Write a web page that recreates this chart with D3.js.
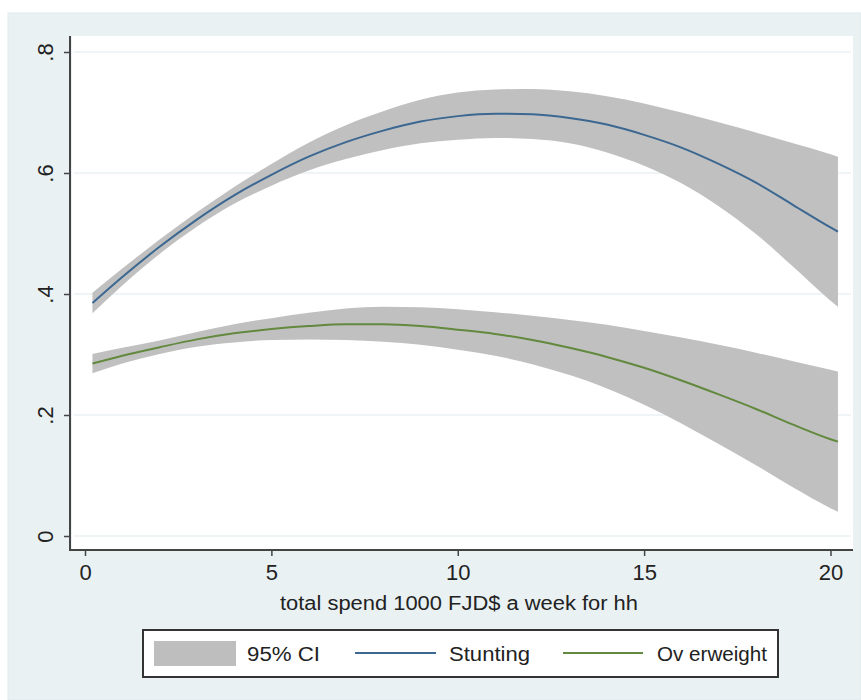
<!DOCTYPE html>
<html>
<head>
<meta charset="utf-8">
<script src="https://cdn.jsdelivr.net/npm/d3@7"></script>
<style>
  html, body { margin: 0; padding: 0; background: #ffffff; }
  svg { display: block; }
  text { font-family: "Liberation Sans", Arial, sans-serif; fill: #222; }
</style>
</head>
<body>
<script>
// ---- data ----
const xVals = [0.2, 1, 2, 3, 4, 5, 6, 7, 8, 9, 10, 11, 12, 13, 14, 15, 16, 17, 18, 19, 20, 20.2];

const stuntingFit = [0.385, 0.428, 0.478, 0.523, 0.563, 0.597, 0.627, 0.651, 0.670, 0.685, 0.694, 0.698, 0.697, 0.691, 0.680, 0.663, 0.642, 0.615, 0.584, 0.547, 0.510, 0.503];
const stuntingHi  = [0.402, 0.442, 0.490, 0.535, 0.577, 0.615, 0.650, 0.679, 0.702, 0.721, 0.733, 0.738, 0.739, 0.735, 0.727, 0.715, 0.700, 0.684, 0.667, 0.649, 0.631, 0.627];
const stuntingLo  = [0.368, 0.414, 0.466, 0.511, 0.549, 0.579, 0.604, 0.623, 0.638, 0.649, 0.655, 0.658, 0.656, 0.649, 0.634, 0.612, 0.583, 0.545, 0.499, 0.445, 0.389, 0.379];

const overweightFit = [0.285, 0.298, 0.312, 0.325, 0.335, 0.342, 0.347, 0.350, 0.350, 0.347, 0.341, 0.334, 0.324, 0.311, 0.296, 0.278, 0.257, 0.234, 0.210, 0.184, 0.160, 0.156];
const overweightHi  = [0.301, 0.311, 0.323, 0.337, 0.350, 0.360, 0.369, 0.376, 0.379, 0.378, 0.375, 0.370, 0.364, 0.357, 0.349, 0.339, 0.328, 0.316, 0.303, 0.289, 0.275, 0.272];
const overweightLo  = [0.269, 0.285, 0.301, 0.313, 0.320, 0.324, 0.325, 0.324, 0.321, 0.316, 0.308, 0.298, 0.284, 0.266, 0.244, 0.217, 0.186, 0.152, 0.117, 0.080, 0.046, 0.040];

const xTicks = [0, 5, 10, 15, 20];
const xTickLabels = ["0", "5", "10", "15", "20"];
const yTicks = [0, 0.2, 0.4, 0.6, 0.8];
const yTickLabels = ["0", ".2", ".4", ".6", ".8"];

const xTitle = "total spend 1000 FJD$ a week for hh";
const legendLabels = ["95% CI", "Stunting", "Ov erweight"];

// ---- styles ----
const colStunting = "#3b6791";
const colOverweight = "#62893e";
const colCI = "#c0c0c0";
const colOuter = "#e9f1f3";

const W = 861, H = 700;
const svg = d3.select("body").append("svg").attr("width", W).attr("height", H);

// outer graph region
svg.append("rect").attr("x", 8).attr("y", 13).attr("width", W - 8).attr("height", H - 13)
  .attr("fill", colOuter).attr("stroke", "#dfe9ed").attr("stroke-width", 1);

// plot region
const plot = { left: 72, right: 853, top: 36, bottom: 549 };
svg.append("rect").attr("x", plot.left).attr("y", plot.top)
  .attr("width", plot.right - plot.left).attr("height", plot.bottom - plot.top)
  .attr("fill", "#ffffff");

const x = d3.scaleLinear().domain([0, 20]).range([85, 830.5]);
const y = d3.scaleLinear().domain([0, 0.8]).range([536, 52]);

// grid lines
svg.append("g").selectAll("line").data(yTicks).join("line")
  .attr("x1", plot.left + 2).attr("x2", plot.right - 2)
  .attr("y1", d => y(d)).attr("y2", d => y(d))
  .attr("stroke", "#eaf2f4").attr("stroke-width", 1.5);

const rows = xVals.map((xv, i) => ({
  x: xv,
  sFit: stuntingFit[i], sLo: stuntingLo[i], sHi: stuntingHi[i],
  oFit: overweightFit[i], oLo: overweightLo[i], oHi: overweightHi[i]
}));

const curve = d3.curveMonotoneX;
const area = (lo, hi) => d3.area().x(d => x(d.x)).y0(d => y(d[lo])).y1(d => y(d[hi])).curve(curve);
const line = (k) => d3.line().x(d => x(d.x)).y(d => y(d[k])).curve(curve);

svg.append("path").datum(rows).attr("d", area("sLo", "sHi")).attr("fill", colCI);
svg.append("path").datum(rows).attr("d", area("oLo", "oHi")).attr("fill", colCI);
svg.append("path").datum(rows).attr("d", line("sFit")).attr("fill", "none")
  .attr("stroke", colStunting).attr("stroke-width", 2);
svg.append("path").datum(rows).attr("d", line("oFit")).attr("fill", "none")
  .attr("stroke", colOverweight).attr("stroke-width", 2);

// axes
const axisCol = "#444";
const yAxis = d3.axisLeft(y).tickValues(yTicks).tickFormat((d, i) => yTickLabels[i]).tickSize(6).tickPadding(6);
const gy = svg.append("g").attr("transform", `translate(${70},0)`).call(yAxis);
gy.select(".domain").remove();
gy.selectAll(".tick line").attr("stroke", axisCol).attr("stroke-width", 1.5);
gy.selectAll(".tick text")
  .attr("font-size", 22).attr("fill", "#222")
  .attr("text-anchor", "middle")
  .attr("x", null).attr("dy", null)
  .attr("transform", "translate(-17,0) rotate(-90)").attr("y", 0);
svg.append("line").attr("x1", 70).attr("x2", 70).attr("y1", plot.top).attr("y2", 551)
  .attr("stroke", axisCol).attr("stroke-width", 2);

const xAxis = d3.axisBottom(x).tickValues(xTicks).tickFormat((d, i) => xTickLabels[i]).tickSize(6).tickPadding(4);
const gx = svg.append("g").attr("transform", `translate(0,${550})`).call(xAxis);
gx.select(".domain").remove();
gx.selectAll(".tick line").attr("stroke", axisCol).attr("stroke-width", 1.5);
gx.selectAll(".tick text").attr("font-size", 22).attr("fill", "#222").attr("y", 10).attr("dy", "0.9em");
svg.append("line").attr("x1", 69).attr("x2", plot.right).attr("y1", 550).attr("y2", 550)
  .attr("stroke", axisCol).attr("stroke-width", 2);

// x axis title
svg.append("text").attr("x", 459).attr("y", 610).attr("text-anchor", "middle")
  .attr("font-size", 20).attr("textLength", 358).attr("lengthAdjust", "spacingAndGlyphs")
  .text(xTitle);

// legend
const lg = svg.append("g");
lg.append("rect").attr("x", 143).attr("y", 630).attr("width", 635).attr("height", 47)
  .attr("fill", "#ffffff").attr("stroke", "#333").attr("stroke-width", 2);
lg.append("rect").attr("x", 154).attr("y", 641).attr("width", 82).attr("height", 25).attr("fill", "#bebebe");
lg.append("text").attr("x", 247).attr("y", 661).attr("font-size", 20)
  .attr("textLength", 73).attr("lengthAdjust", "spacingAndGlyphs").text(legendLabels[0]);
lg.append("line").attr("x1", 355).attr("x2", 436).attr("y1", 653).attr("y2", 653)
  .attr("stroke", colStunting).attr("stroke-width", 2);
lg.append("text").attr("x", 449).attr("y", 661).attr("font-size", 20)
  .attr("textLength", 81).attr("lengthAdjust", "spacingAndGlyphs").text(legendLabels[1]);
lg.append("line").attr("x1", 563).attr("x2", 643).attr("y1", 653).attr("y2", 653)
  .attr("stroke", colOverweight).attr("stroke-width", 2);
lg.append("text").attr("x", 657).attr("y", 661).attr("font-size", 20)
  .attr("textLength", 110).attr("lengthAdjust", "spacingAndGlyphs").text(legendLabels[2]);
</script>
</body>
</html>
